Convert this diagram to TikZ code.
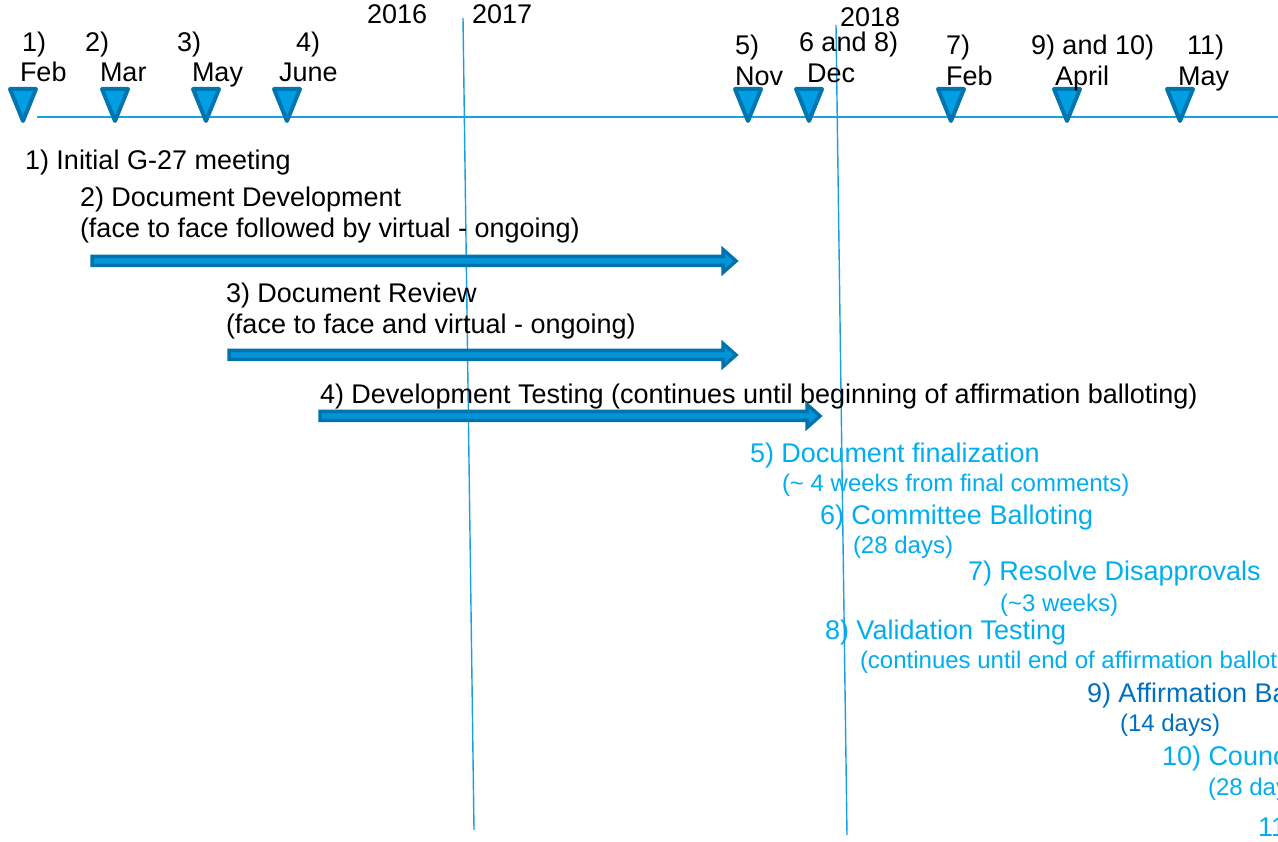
\documentclass[tikz,border=0pt]{standalone}
\usepackage{fontspec}
\setmainfont{Liberation Sans}
\definecolor{tl}{HTML}{1A9FE0}
\definecolor{trifill}{HTML}{009FE3}
\definecolor{tridraw}{HTML}{0075B0}
\definecolor{arrfill}{HTML}{0094D8}
\definecolor{arrdraw}{HTML}{0072AC}
\definecolor{cyanT}{HTML}{00AEEF}
\definecolor{darkT}{HTML}{0070C0}
\begin{document}
\begin{tikzpicture}[x=1pt,y=-1pt,
  every node/.style={inner sep=0pt, outer sep=0pt, anchor=base west},
  big/.style={font=\fontsize{27}{32}\selectfont},
  small/.style={font=\fontsize{24}{28}\selectfont},
  bluebig/.style={big, text=cyanT},
  bluesmall/.style={small, text=cyanT},
  tri/.style={fill=trifill, draw=tridraw, line width=4pt, line join=round},
  axis/.style={draw=tl, line width=1.6pt},
  yearline/.style={draw=tl, line width=1.4pt},
  arrowbody/.style={fill=arrfill, draw=arrdraw, line width=3.5pt, line join=miter}]
\useasboundingbox (0,0) rectangle (1278,842);
\clip (0,0) rectangle (1278,842);
\fill[white] (0,0) rectangle (1278,842);

% timeline axis
\coordinate (axS) at (37,117);
\coordinate (axE) at (1278,117);
\draw[axis] (axS) -- (axE);

% year separator lines
\coordinate (y1t) at (463,18);
\coordinate (y1b) at (474,830);
\coordinate (y2t) at (836,25);
\coordinate (y2b) at (847,835);
\draw[yearline] (y1t) -- (y1b);
\draw[yearline] (y2t) -- (y2b);

% year labels
\node[big] (yr16) at (367,24) {2016};
\node[big] (yr17) at (472,24) {2017};
\node[big] (yr18) at (840,27) {2018};

% triangles
\foreach \n/\x in {t1/23,t2/115,t3/206,t4/287,t5/748,t6/809,t7/951,t8/1067,t9/1180}{
  \coordinate (\n) at (\x,89);
  \filldraw[tri] (\n) ++(-13,0) -- ++(26,0) -- ++(-13,32) -- cycle;
}

% milestone labels
\node[big] (n1) at (22,52) {1)};
\node[big] (m1) at (20,82) {Feb};
\node[big] (n2) at (85,52) {2)};
\node[big] (m2) at (100,82) {Mar};
\node[big] (n3) at (177,52) {3)};
\node[big] (m3) at (192,82) {May};
\node[big] (n4) at (296,52) {4)};
\node[big] (m4) at (279,82) {June};
\node[big] (n5) at (735,55) {5)};
\node[big] (m5) at (735,86) {Nov};
\node[big] (n6) at (799,52) {6 and 8)};
\node[big] (m6) at (807,83) {Dec};
\node[big] (n7) at (946,55) {7)};
\node[big] (m7) at (946,86) {Feb};
\node[big] (n8) at (1031,55) {9) and 10)};
\node[big] (m8) at (1055,86) {April};
\node[big] (n9) at (1187,55) {11)};
\node[big] (m9) at (1178,86) {May};

% black task texts
\node[big] (s1) at (25,170) {1) Initial G-27 meeting};
\node[big] (s2) at (80,207) {2) Document Development};
\node[big] (s2b) at (80,238) {(face to face followed by virtual - ongoing)};
\node[big] (s3) at (226,303) {3) Document Review};
\node[big] (s3b) at (226,334) {(face to face and virtual - ongoing)};
\node[big] (s4) at (320,404) {4) Development Testing (continues until beginning of affirmation balloting)};

% arrows
\newcommand\taskarrow[3]{%
  \filldraw[arrowbody] (#1,#3-4.5) -- (#2-15,#3-4.5) -- (#2-15,#3-11.5)
    -- (#2-2,#3) -- (#2-15,#3+11.5) -- (#2-15,#3+4.5) -- (#1,#3+4.5) -- cycle;}
\coordinate (a1s) at (92,261); \coordinate (a1e) at (738,261);
\coordinate (a2s) at (229,355); \coordinate (a2e) at (738,355);
\coordinate (a3s) at (320,416); \coordinate (a3e) at (822,416);
\taskarrow{92}{738}{261}
\taskarrow{229}{738}{355}
\taskarrow{320}{822}{416}

% blue texts
\node[bluebig] (b5) at (750,462) {5) Document finalization};
\node[bluesmall] (b5s) at (782,491) {(\textasciitilde{} 4 weeks from final comments)};
\node[bluebig] (b6) at (820,524) {6) Committee Balloting};
\node[bluesmall] (b6s) at (853,553) {(28 days)};
\node[bluebig] (b7) at (968,580) {7) Resolve Disapprovals};
\node[bluesmall] (b7s) at (1000,611) {(\textasciitilde3 weeks)};
\node[bluebig] (b8) at (825,639) {8) Validation Testing};
\node[bluesmall] (b8s) at (860,668) {(continues until end of affirmation ballot};
\node[big, text=darkT] (b9) at (1087,702) {9) Affirmation Ba};
\node[small, text=darkT] (b9s) at (1120,731) {(14 days)};
\node[bluebig] (b10) at (1162,765) {10) Counc};
\node[bluesmall] (b10s) at (1208,795) {(28 day};
\node[bluebig] (b11) at (1258,836) {11};
\end{tikzpicture}
\end{document}
